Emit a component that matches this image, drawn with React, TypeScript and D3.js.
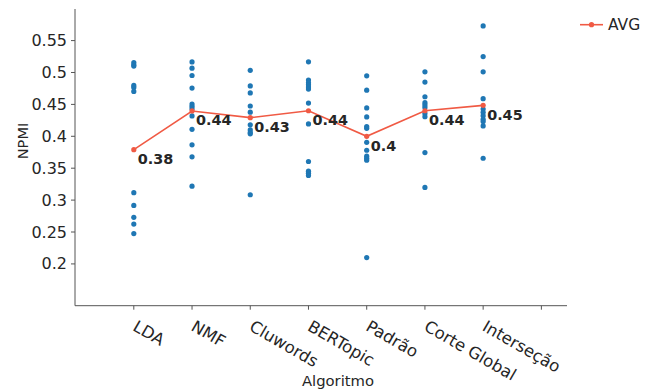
import React from 'react';
import * as d3 from 'd3';

const categories = ['LDA', 'NMF', 'Cluwords', 'BERTopic', 'Padrão', 'Corte Global', 'Interseção'];

const ldaRuns = [0.5156, 0.512, 0.510, 0.4797, 0.4766, 0.4703, 0.3116, 0.2917, 0.273, 0.2625, 0.2475];
const nmfRuns = [0.5166, 0.5068, 0.4953, 0.4755, 0.4505, 0.4469, 0.4433, 0.4319, 0.4109, 0.3866, 0.3678, 0.3219];
const cluwordsRuns = [0.5034, 0.4789, 0.468, 0.4475, 0.4378, 0.418, 0.41, 0.4058, 0.4038, 0.3084];
const bertopicRuns = [0.5167, 0.4881, 0.4839, 0.4808, 0.4772, 0.474, 0.452, 0.4194, 0.3605, 0.3453, 0.3422, 0.3386];
const padraoRuns = [0.4948, 0.4723, 0.4444, 0.4303, 0.4152, 0.4125, 0.3906, 0.3781, 0.3688, 0.3656, 0.3625, 0.21];
const corteRuns = [0.5011, 0.485, 0.462, 0.4527, 0.4491, 0.4453, 0.4359, 0.4308, 0.3745, 0.3198];
const intersecaoRuns = [0.573, 0.525, 0.5011, 0.4589, 0.4427, 0.4377, 0.4323, 0.4266, 0.423, 0.4162, 0.3656];

const runs = [ldaRuns, nmfRuns, cluwordsRuns, bertopicRuns, padraoRuns, corteRuns, intersecaoRuns];

const avg = [0.379, 0.4397, 0.4292, 0.44, 0.4, 0.44, 0.4485];
const avgLabels = ['0.38', '0.44', '0.43', '0.44', '0.4', '0.44', '0.45'];

const yTicks = [0.2, 0.25, 0.3, 0.35, 0.4, 0.45, 0.5, 0.55];
const yTickLabels = ['0.2', '0.25', '0.3', '0.35', '0.4', '0.45', '0.5', '0.55'];
const xTicks = [0, 1, 2, 3, 4, 5, 6, 7];

const FONT = 'DejaVu Sans, sans-serif';
const BLUE = '#1f77b4';
const RED = '#f05a44';
const TEXT = '#262626';

const App = () => {
  const width = 659;
  const height = 389;
  const left = 75;
  const right = 567;
  const top = 9;
  const bottom = 305.7;

  const x = d3.scaleLinear().domain([-1.01, 7.44]).range([left, right]);
  const y = d3.scaleLinear().domain([0.1345, 0.5995]).range([bottom, top]);

  const line = d3
    .line<number>()
    .x((d, i) => x(i))
    .y((d) => y(d));

  return (
    <svg
      width={width}
      height={height}
      style={{ position: 'absolute', left: 0, top: 0, background: '#fff' }}
      fontFamily={FONT}
    >
      {/* points per run */}
      {runs.map((vals, i) =>
        vals.map((v, j) => (
          <circle key={`p${i}-${j}`} cx={x(i)} cy={y(v)} r={2.6} fill={BLUE} />
        ))
      )}

      {/* average line */}
      <path d={line(avg) || ''} fill="none" stroke={RED} strokeWidth={1.6} />
      {avg.map((v, i) => (
        <circle key={`a${i}`} cx={x(i)} cy={y(v)} r={2.6} fill={RED} />
      ))}
      {avg.map((v, i) => (
        <text
          key={`l${i}`}
          x={x(i) + 4}
          y={y(v) + 14.5}
          fontSize={14.4}
          fontWeight="bold"
          fill={TEXT}
        >
          {avgLabels[i]}
        </text>
      ))}

      {/* spines */}
      <line x1={left} x2={left} y1={top} y2={bottom} stroke="#555" strokeWidth={1} />
      <line x1={left} x2={right} y1={bottom} y2={bottom} stroke="#555" strokeWidth={1} />

      {/* y ticks */}
      {yTicks.map((t, i) => (
        <g key={`yt${i}`}>
          <line x1={left - 4} x2={left} y1={y(t)} y2={y(t)} stroke="#555" />
          <text
            x={left - 8}
            y={y(t)}
            textAnchor="end"
            dominantBaseline="central"
            fontSize={16}
            fill={TEXT}
          >
            {yTickLabels[i]}
          </text>
        </g>
      ))}

      {/* x ticks */}
      {xTicks.map((t) => (
        <g key={`xt${t}`}>
          <line x1={x(t)} x2={x(t)} y1={bottom} y2={bottom + 4} stroke="#555" />
          {categories[t] && (
            <text
              transform={`translate(${x(t) - 2},${bottom + 24}) rotate(30)`}
              fontSize={16.5}
              fill={TEXT}
            >
              {categories[t]}
            </text>
          )}
        </g>
      ))}

      {/* axis labels */}
      <text
        transform={`translate(28,141) rotate(-90)`}
        textAnchor="middle"
        fontSize={14.6}
        fill={TEXT}
      >
        NPMI
      </text>
      <text x={338} y={386} textAnchor="middle" fontSize={14.8} fill={TEXT}>
        Algoritmo
      </text>

      {/* legend */}
      <line x1={580} x2={603} y1={24.7} y2={24.7} stroke={RED} strokeWidth={1.6} />
      <circle cx={591.5} cy={24.7} r={2.6} fill={RED} />
      <text x={608} y={24.7} dominantBaseline="central" fontSize={15.5} fill={TEXT}>
        AVG
      </text>
    </svg>
  );
};

export default App;
